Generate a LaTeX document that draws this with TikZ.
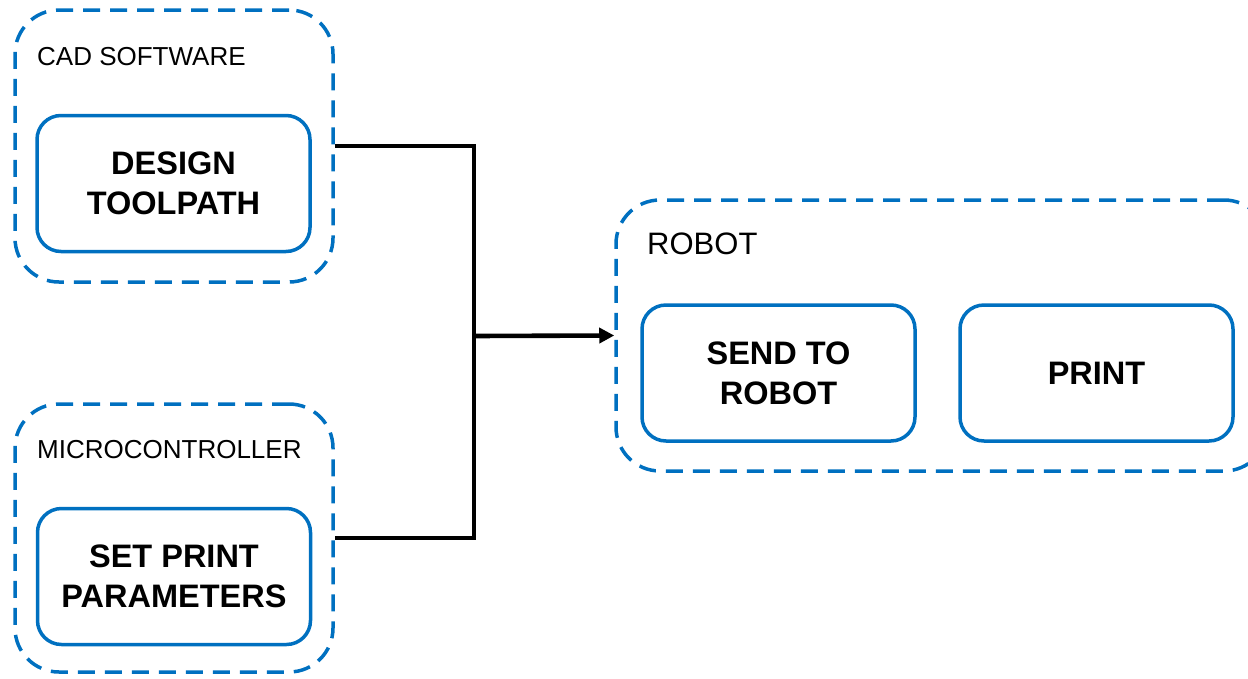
\documentclass[tikz,border=0pt]{standalone}
\usepackage{fontspec}
\setmainfont{Liberation Sans}
\usetikzlibrary{arrows.meta}
\definecolor{flowblue}{HTML}{0070C0}

\begin{document}
\begin{tikzpicture}[x=1pt,y=-1pt,line join=miter,
    group/.style={draw=flowblue,line width=3.5pt,dash pattern=on 17pt off 10pt,
      rounded corners=44pt,inner sep=0pt},
    stage/.style={draw=flowblue,line width=3.5pt,rounded corners=24pt,
      minimum width=273pt,minimum height=136pt,align=center,
      font=\bfseries\fontsize{32.5}{40}\selectfont},
    tag/.style={anchor=west,inner sep=0pt,font=\fontsize{26}{30}\selectfont},
    link/.style={draw=black,line width=4.6pt}]
  \clip (0,0) rectangle (1248,678);
  % outer groups (robot runs off the right edge)
  \node[group,minimum width=318pt,minimum height=272pt] (cad) at (174,146) {};
  \node[group,minimum width=318pt,minimum height=268pt] (micro) at (174,538) {};
  \node[group,minimum width=652pt,minimum height=271pt] (robot) at (942,335.5) {};
  \node[tag] (cadtag) at (37,57) {CAD SOFTWARE};
  \node[tag] (microtag) at (37,450) {MICROCONTROLLER};
  \node[tag,font=\fontsize{31}{36}\selectfont] (robottag) at (647,244) {ROBOT};
  % steps
  \node[stage] (design) at (173.5,183.5) {DESIGN\\TOOLPATH};
  \node[stage] (setprint) at (174,576.5) {SET PRINT\\PARAMETERS};
  \node[stage] (send) at (778.5,373) {SEND TO\\ROBOT};
  \node[stage] (print) at (1096.5,373) {PRINT};
  % connectors
  \coordinate (join) at (474,336);
  \draw[link] (cad.east) -| (join) |- (micro.east);
  \draw[link,-{Triangle[length=15pt,width=15pt]}] (join) -- (robot.west);
\end{tikzpicture}
\end{document}
